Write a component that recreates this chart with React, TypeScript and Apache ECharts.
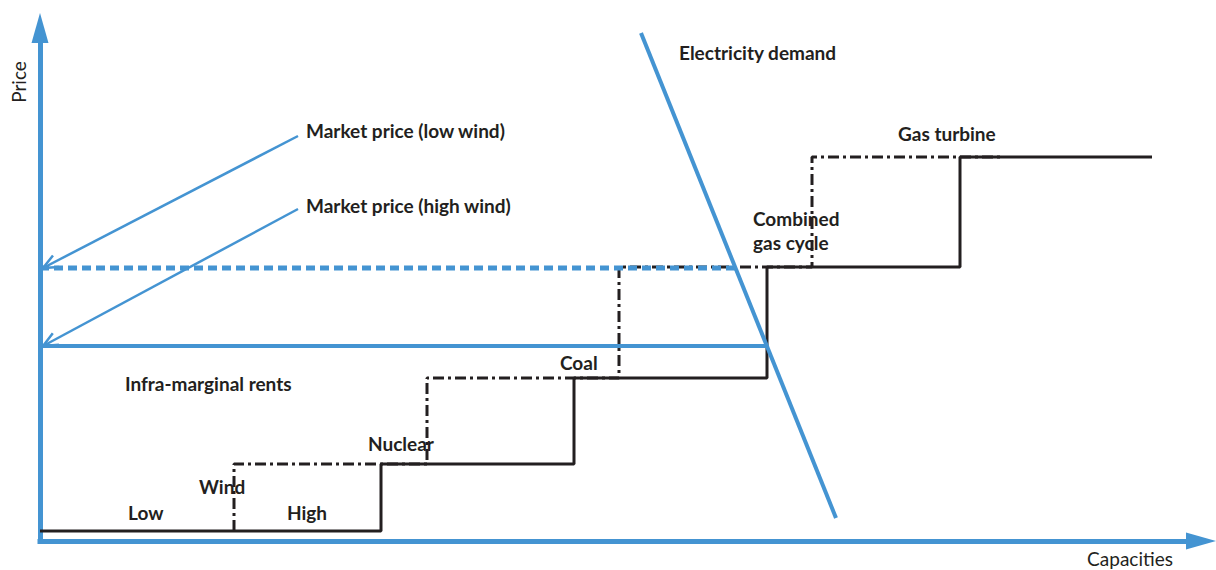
import React, { useEffect, useRef } from "react";
import * as echarts from "echarts";

// Conceptual units: capacity (x) and price (y)
const X_MAX = 1161;
const Y_MAX = 513;

// Merit-order supply curve, high wind (solid)
const meritOrderHighWind: number[][] = [
  [0, 10], [341, 10], [341, 77], [534, 77], [534, 163], [727, 163],
  [727, 274], [920, 274], [920, 384], [1112, 384],
];
// Merit-order supply curve, low wind (dash-dot)
const meritOrderLowWind: number[][] = [
  [194, 10], [194, 77], [387, 77], [387, 163], [579, 163],
  [579, 274], [772, 274], [772, 384], [960, 384],
];
// Electricity demand curve
const demandCurve: number[][] = [[601, 508], [796, 23]];
// Market prices
const priceLowWind: number[][] = [[0, 273], [697, 273]];
const priceHighWind: number[][] = [[0, 195], [727, 195]];
// Annotation pointers (from label to price level)
const pointerLowWind: number[][] = [[258, 405], [3, 273]];
const pointerHighWind: number[][] = [[258, 332], [3, 195]];

const BLUE = "#4494d2";
const INK = "#231f20";
const FONT = "Lato, 'Noto Sans', sans-serif";

function arrowHead(seg: number[][], len = 16, ang = 0.42): number[][] {
  const [from, tip] = seg;
  const a = Math.atan2(from[1] - tip[1], from[0] - tip[0]);
  return [
    [tip[0] + len * Math.cos(a + ang), tip[1] + len * Math.sin(a + ang)],
    tip,
    [tip[0] + len * Math.cos(a - ang), tip[1] + len * Math.sin(a - ang)],
  ];
}

function lineSeries(data: number[][], style: any, z = 2) {
  return {
    type: "line",
    data,
    showSymbol: false,
    symbol: "none",
    silent: true,
    z,
    lineStyle: style,
  };
}

export default function App() {
  const ref = useRef<HTMLDivElement>(null);
  useEffect(() => {
    if (!ref.current) return;
    const chart = echarts.init(ref.current, undefined, { renderer: "svg" });
    const bold = { fontFamily: FONT, fontWeight: 700, fontSize: 19, fill: INK };
    const txt = (text: string, x: number, y: number, extra: any = {}) => ({
      type: "text",
      x,
      y,
      style: { text, ...bold, verticalAlign: "middle", align: "left", ...extra },
    });
    chart.setOption({
      animation: false,
      grid: { left: 40, right: 15, top: 28, bottom: 29 },
      xAxis: {
        type: "value",
        min: 0,
        max: X_MAX,
        axisLine: {
          show: true,
          symbol: ["none", "triangle"],
          symbolSize: [17, 30],
          lineStyle: { color: BLUE, width: 5, cap: "square" },
        },
        axisTick: { show: false },
        axisLabel: { show: false },
        splitLine: { show: false },
      },
      yAxis: {
        type: "value",
        min: 0,
        max: Y_MAX,
        axisLine: {
          show: true,
          symbol: ["none", "triangle"],
          symbolSize: [17, 30],
          lineStyle: { color: BLUE, width: 5, cap: "square" },
        },
        axisTick: { show: false },
        axisLabel: { show: false },
        splitLine: { show: false },
      },
      series: [
        lineSeries(meritOrderLowWind, { color: INK, width: 3, type: [11, 4, 3, 4] }, 2),
        lineSeries(meritOrderHighWind, { color: INK, width: 3 }, 3),
        lineSeries(priceLowWind, { color: BLUE, width: 5, type: [9, 5] }, 4),
        lineSeries(priceHighWind, { color: BLUE, width: 4 }, 4),
        lineSeries(demandCurve, { color: BLUE, width: 4 }, 5),
        lineSeries(pointerLowWind, { color: BLUE, width: 2.5 }, 5),
        lineSeries(arrowHead(pointerLowWind), { color: BLUE, width: 2.5 }, 5),
        lineSeries(pointerHighWind, { color: BLUE, width: 2.5 }, 5),
        lineSeries(arrowHead(pointerHighWind), { color: BLUE, width: 2.5 }, 5),
      ],
      graphic: [
        {
          type: "text",
          x: 18,
          y: 82,
          rotation: Math.PI / 2,
          style: {
            text: "Price",
            fontFamily: FONT,
            fontSize: 19,
            fill: INK,
            align: "center",
            verticalAlign: "middle",
          },
        },
        {
          type: "text",
          x: 1130,
          y: 558,
          style: {
            text: "Capacities",
            fontFamily: FONT,
            fontSize: 19,
            fill: INK,
            align: "center",
            verticalAlign: "middle",
          },
        },
        txt("Electricity demand", 679, 52),
        txt("Market price (low wind)", 306, 130),
        txt("Market price (high wind)", 306, 205),
        txt("Gas turbine", 898, 133),
        txt("Combined", 753, 218),
        txt("gas cycle", 753, 242),
        txt("Infra-marginal rents", 125, 383),
        txt("Coal", 560, 362),
        txt("Nuclear", 368, 443),
        txt("Wind", 199, 486),
        txt("Low", 128, 512),
        txt("High", 287, 512),
      ],
    });
    return () => chart.dispose();
  }, []);
  return (
    <div
      ref={ref}
      style={{ position: "absolute", left: 0, top: 0, width: 1216, height: 570, background: "#fff" }}
    />
  );
}
